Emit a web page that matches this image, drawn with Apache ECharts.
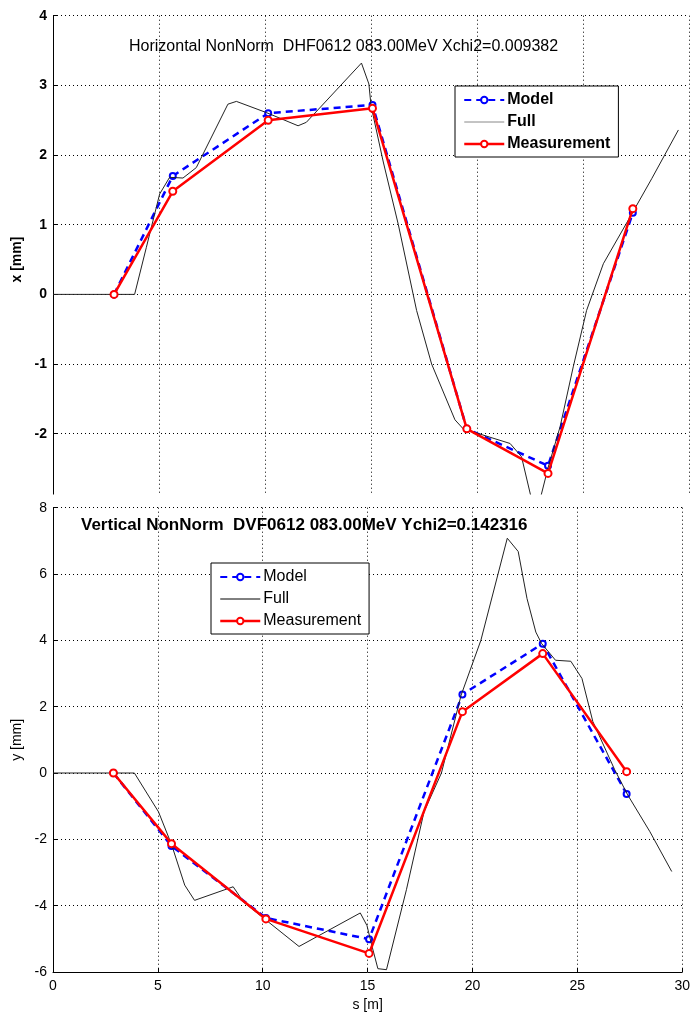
<!DOCTYPE html>
<html>
<head>
<meta charset="utf-8">
<script src="https://cdn.jsdelivr.net/npm/echarts@6/dist/echarts.min.js"></script>
<style>
html,body{margin:0;padding:0;background:#fff;}
#chart{width:693px;height:1013px;}
</style>
</head>
<body>
<div id="chart"></div>
<script>
// ---- Data ----
const bpmS = [2.88, 5.65, 10.15, 15.07, 19.52, 23.35, 27.35];

const xModel = [0, 1.70, 2.60, 2.72, -1.93, -2.46, 1.17];
const xMeas  = [0, 1.48, 2.50, 2.67, -1.93, -2.57, 1.23];
const xFullS = [0, 3.85, 4.4, 5.03, 5.5, 6.13, 6.76, 8.25, 8.65, 10.06, 11.56, 11.95, 14.55, 14.9, 15.0, 15.58, 16.29, 17.15, 17.86, 18.96, 19.35, 21.56, 22.1, 22.58, 22.97, 23.36, 23.92, 24.54, 25.17, 25.96, 27.2, 28.24, 29.5];
const xFullV = [0, 0, 0.67, 1.44, 1.68, 1.67, 1.82, 2.73, 2.77, 2.61, 2.42, 2.47, 3.32, 3.02, 2.71, 1.9, 1.0, -0.23, -1.0, -1.8, -1.93, -2.14, -2.33, -2.95, -2.95, -2.48, -1.9, -1.04, -0.23, 0.44, 1.1, 1.66, 2.36];

const yModel = [0, -2.20, -4.37, -5.01, 2.37, 3.90, -0.63];
const yMeas  = [0, -2.13, -4.40, -5.44, 1.85, 3.60, 0.04];
const yFullS = [0, 3.88, 5.03, 5.66, 6.28, 6.75, 8.59, 9.1, 11.73, 14.65, 14.97, 15.2, 15.49, 15.9, 16.85, 17.69, 18.52, 19.46, 20.4, 21.66, 22.18, 22.6, 23.02, 23.3, 23.96, 24.69, 25.22, 25.74, 26.78, 27.4, 28.46, 29.5];
const yFullV = [0, 0, -1.17, -2.17, -3.38, -3.84, -3.43, -3.9, -5.23, -4.22, -4.6, -5.2, -5.9, -5.93, -3.52, -1.17, 0, 2.35, 4.0, 7.08, 6.68, 5.26, 4.25, 3.9, 3.4, 3.37, 2.85, 1.55, 0.1, -0.66, -1.77, -2.97];

const xTicks = [0, 5, 10, 15, 20, 25, 30];
const topTitle = 'Horizontal NonNorm  DHF0612 083.00MeV Xchi2=0.009382';
const botTitle = 'Vertical NonNorm  DVF0612 083.00MeV Ychi2=0.142316';
const legendNames = ['Model', 'Full', 'Measurement'];

// ---- Build ----
const zip = (a, b) => a.map((v, i) => [v, b[i]]);
const FONT = "'Liberation Sans', Arial, Helvetica, sans-serif";
const grid = { type: [1, 3], color: '#000', width: 1 };

function xAxisDef(gridIndex, showLabels) {
  return {
    type: 'value', gridIndex, min: xTicks[0], max: xTicks[xTicks.length - 1], interval: 5,
    axisLine: { show: showLabels, onZero: false, lineStyle: { color: '#000', width: 1 } },
    axisTick: { show: showLabels, inside: true, length: 4, lineStyle: { color: '#000' } },
    axisLabel: { show: showLabels, color: '#000', fontFamily: FONT, fontSize: 14, margin: 7 },
    splitLine: { show: true, lineStyle: grid },
    name: showLabels ? 's [m]' : '', nameLocation: 'middle', nameGap: 26,
    nameTextStyle: { color: '#000', fontFamily: FONT, fontSize: 14 }
  };
}
function yAxisDef(gridIndex, min, max, interval, name, bold) {
  return {
    type: 'value', gridIndex, min, max, interval,
    axisLine: { show: true, onZero: false, lineStyle: { color: '#000', width: 1 } },
    axisTick: { show: true, inside: true, length: 4, lineStyle: { color: '#000' } },
    axisLabel: { color: '#000', fontFamily: FONT, fontSize: 14, fontWeight: bold ? 'bold' : 'normal', margin: 6,
      showMinLabel: gridIndex === 0 ? false : true },
    splitLine: { show: true, lineStyle: grid },
    name, nameLocation: 'middle', nameGap: 29,
    nameTextStyle: { color: '#000', fontFamily: FONT, fontSize: 14, fontWeight: bold ? 'bold' : 'normal' }
  };
}
function seriesSet(idx, model, full, meas) {
  return [
    { name: 'Model', type: 'line', xAxisIndex: idx, yAxisIndex: idx, data: zip(bpmS, model),
      symbol: 'emptyCircle', symbolSize: 6, showSymbol: true,
      lineStyle: { color: '#0000ff', width: 2.5, type: [7, 5] },
      itemStyle: { color: '#0000ff', borderColor: '#0000ff', borderWidth: 2 }, z: 3, animation: false },
    { name: 'Full', type: 'line', xAxisIndex: idx, yAxisIndex: idx, data: zip(full[0], full[1]),
      symbol: 'none', lineStyle: { color: '#222', width: 1 }, itemStyle: { color: '#222' }, z: 4, animation: false },
    { name: 'Measurement', type: 'line', xAxisIndex: idx, yAxisIndex: idx, data: zip(bpmS, meas),
      symbol: 'emptyCircle', symbolSize: 7, showSymbol: true,
      lineStyle: { color: '#ff0000', width: 2.5 },
      itemStyle: { color: '#ff0000', borderColor: '#ff0000', borderWidth: 2 }, z: 5, animation: false }
  ];
}
function legendDef(left, top, bold, fullColor) {
  return {
    data: [
      { name: 'Model' },
      { name: 'Full', itemStyle: { opacity: 0 }, lineStyle: { color: fullColor, width: 1 } },
      { name: 'Measurement', lineStyle: { width: 2.5 }, itemStyle: { borderWidth: 1 } }
    ],
    orient: 'vertical', left, top,
    backgroundColor: '#fff', borderColor: '#000', borderWidth: 1, borderRadius: 0,
    padding: [6, 8, 5, 8], itemGap: 6, itemWidth: 40, itemHeight: 8,
    selectedMode: false,
    textStyle: { color: '#000', fontFamily: FONT, fontSize: 16, fontWeight: bold ? 'bold' : 'normal', padding: [0, 0, 0, -2] }
  };
}

const chart = echarts.init(document.getElementById('chart'), null, { renderer: 'canvas' });
chart.setOption({
  animation: false,
  backgroundColor: '#fff',
  title: [
    { text: topTitle, left: 124, top: 34, textStyle: { fontFamily: FONT, fontSize: 16, fontWeight: 'normal', color: '#000' } },
    { text: botTitle, left: 76, top: 512, textStyle: { fontFamily: FONT, fontSize: 17, fontWeight: 'bold', color: '#000' } }
  ],
  grid: [
    { left: 53, right: 4, top: 15.7, height: 487.7 },
    { left: 53, right: 4, top: 507.7, height: 465.6 }
  ],
  xAxis: [xAxisDef(0, false), xAxisDef(1, true)],
  yAxis: [yAxisDef(0, -3, 4, 1, 'x [mm]', true), yAxisDef(1, -6, 8, 2, 'y [mm]', false)],
  legend: [legendDef(455, 86, true, '#888'), legendDef(211, 563, false, '#000')],
  series: [].concat(seriesSet(0, xModel, [xFullS, xFullV], xMeas), seriesSet(1, yModel, [yFullS, yFullV], yMeas)),
  graphic: [
    { type: 'rect', shape: { x: 50, y: 494.5, width: 650, height: 9.5 }, style: { fill: '#fff' }, z: 100, silent: true }
  ]
});
</script>
</body>
</html>
